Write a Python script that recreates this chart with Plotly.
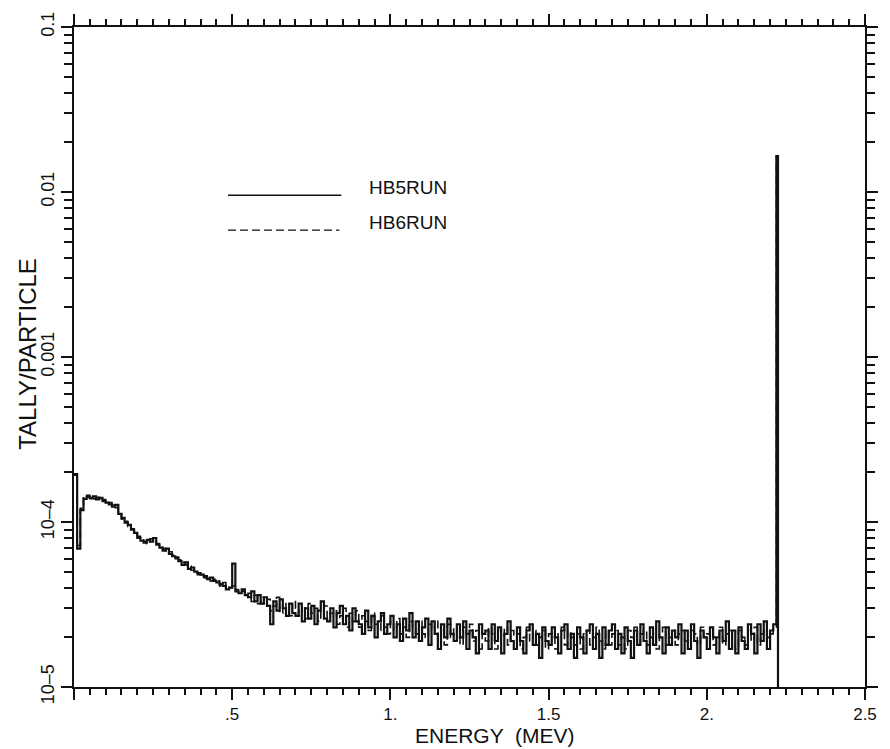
import plotly.graph_objects as go

# Tally spectra, 0.01 MeV bins starting at 0 MeV, values in units of 1e-6 per particle
BIN_WIDTH = 0.01
hb5_tally = [
    195, 69, 118, 138, 142, 139, 143, 137, 140, 134,
    131, 128, 124, 127, 112, 106, 99, 96, 90, 86,
    80, 77, 75, 78, 76, 80, 73, 70, 67, 69,
    64, 62, 61, 58, 55, 57, 52, 53, 50, 49,
    48, 47, 45, 46, 44, 43, 42, 41, 39, 40,
    56, 38, 37, 39, 36, 35, 38, 33, 36, 32,
    35, 31, 24, 33, 29, 34, 30, 27, 32, 28,
    27, 32, 25, 30, 26, 31, 24, 29, 33, 26,
    25, 30, 23, 28, 31, 24, 27, 22, 30, 25,
    24, 21, 29, 23, 27, 20, 25, 28, 21, 24,
    27, 20, 24, 19, 26, 22, 28, 20, 25, 19,
    23, 26, 18, 25, 21, 17, 24, 20, 26, 21,
    19, 24, 20, 25, 17, 22, 20, 16, 24, 21,
    22, 17, 24, 19, 23, 16, 21, 25, 19, 17,
    23, 19, 16, 22, 24, 18, 21, 15, 23, 19,
    18, 23, 20, 16, 22, 24, 17, 21, 15, 23,
    20, 16, 22, 24, 17, 21, 15, 23, 18, 22,
    24, 17, 21, 16, 23, 19, 15, 22, 18, 24,
    19, 16, 23, 18, 25, 20, 16, 23, 18, 22,
    20, 24, 16, 22, 17, 24, 19, 15, 22, 20,
    17, 23, 20, 16, 22, 19, 25, 17, 22, 16,
    23, 19, 17, 24, 21, 16, 24, 19, 25, 17,
    22, 24,
]
hb6_tally = [
    192, 72, 121, 140, 145, 141, 138, 141, 136, 137,
    129, 131, 127, 122, 115, 104, 101, 94, 91, 84,
    82, 79, 76, 74, 79, 77, 74, 71, 69, 66,
    66, 63, 60, 59, 57, 55, 54, 51, 51, 48,
    49, 46, 46, 44, 45, 44, 41, 43, 41, 40,
    41, 39, 37, 38, 35, 37, 33, 36, 32, 35,
    32, 34, 29, 31, 35, 28, 32, 29, 27, 33,
    30, 27, 31, 26, 32, 28, 30, 25, 29, 31,
    26, 28, 29, 24, 27, 30, 23, 28, 25, 29,
    23, 27, 25, 22, 28, 24, 22, 27, 23, 21,
    25, 22, 26, 21, 23, 20, 25, 23, 21, 25,
    21, 20, 24, 22, 25, 19, 22, 18, 24, 20,
    23, 20, 18, 23, 21, 24, 19, 22, 17, 21,
    19, 23, 21, 17, 22, 20, 23, 18, 22, 20,
    21, 17, 20, 23, 19, 22, 18, 20, 22, 17,
    21, 20, 17, 21, 23, 18, 22, 20, 18, 21,
    17, 21, 22, 18, 20, 23, 19, 17, 22, 18,
    21, 22, 18, 20, 17, 22, 20, 23, 18, 21,
    22, 18, 20, 21, 17, 21, 23, 18, 20, 22,
    18, 21, 22, 19, 17, 22, 21, 18, 23, 20,
    21, 22, 18, 20, 23, 18, 21, 22, 19, 17,
    22, 20, 18, 22, 19, 23, 18, 21, 22, 20,
    21, 23,
]
# 2.223 MeV capture line (narrow bin)
LINE_E = 2.22
LINE_BIN = 0.005
hb5_line = 0.0165
hb6_line = 0.0164
FLOOR = 1e-7  # below the axis range, closes the histogram

x_tickvals = [0, 0.5, 1.0, 1.5, 2.0, 2.5]
x_ticktext = ["", ".5", "1.", "1.5", "2.", "2.5"]
y_tickvals = [1e-5, 1e-4, 1e-3, 1e-2, 1e-1]
y_ticktext = ["10\u20135", "10\u20134", "0.001", "0.01", "0.1"]
y_minor = [k * 10.0 ** p for p in range(-5, -1) for k in range(2, 10)]


def histogram(values, line_val):
    xs = [i * BIN_WIDTH for i in range(len(values))] + [LINE_E, LINE_E + LINE_BIN]
    ys = [v * 1e-6 for v in values] + [line_val, FLOOR]
    return xs, ys


FONT = "Liberation Sans"
INK = "#111111"

fig = go.Figure()
x5, y5 = histogram(hb5_tally, hb5_line)
x6, y6 = histogram(hb6_tally, hb6_line)
fig.add_trace(go.Scatter(x=x6, y=y6, mode="lines", line_shape="hv",
                         line=dict(color=INK, width=1.6, dash="8px,4px"),
                         name="HB6RUN", showlegend=False))
fig.add_trace(go.Scatter(x=x5, y=y5, mode="lines", line_shape="hv",
                         line=dict(color=INK, width=2.2),
                         name="HB5RUN", showlegend=False))

L, R, T, B = 74, 20, 24, 62
W, H = 890, 749
pw, ph = W - L - R, H - T - B


def px(xp):
    return (xp - L) / pw


def py(yp):
    return (H - B - yp) / ph


axis_common = dict(showline=True, linecolor=INK, linewidth=2, mirror="allticks",
                   ticks="outside", tickcolor=INK, tickwidth=2, ticklen=11,
                   showgrid=False, zeroline=False)

fig.update_xaxes(range=[0, 2.5], tickvals=x_tickvals, ticktext=x_ticktext,
                 tickfont=dict(family=FONT, size=17, color=INK),
                 minor=dict(dtick=0.05, ticks="outside", ticklen=6, tickwidth=1.6,
                            tickcolor=INK, showgrid=False),
                 **axis_common)
fig.update_yaxes(type="log", range=[-5, -1], tickvals=y_tickvals, ticktext=y_ticktext,
                 tickangle=-90, tickfont=dict(family=FONT, size=18, color=INK),
                 minor=dict(tickvals=y_minor, ticks="outside", ticklen=8, tickwidth=1.6,
                            tickcolor=INK, showgrid=False),
                 **axis_common)

# legend drawn inside the frame
fig.add_shape(type="line", xref="paper", yref="paper",
              x0=px(229), x1=px(343), y0=py(193), y1=py(193),
              line=dict(color=INK, width=1.6))
fig.add_shape(type="line", xref="paper", yref="paper",
              x0=px(229), x1=px(341), y0=py(228), y1=py(228),
              line=dict(color=INK, width=1.4, dash="8px,4px"))
fig.add_annotation(xref="paper", yref="paper", x=px(369), y=py(185),
                   text="HB5RUN", showarrow=False, xanchor="left", yanchor="middle",
                   font=dict(family=FONT, size=19, color=INK))
fig.add_annotation(xref="paper", yref="paper", x=px(369), y=py(220),
                   text="HB6RUN", showarrow=False, xanchor="left", yanchor="middle",
                   font=dict(family=FONT, size=19, color=INK))

# axis titles
fig.add_annotation(xref="paper", yref="paper", x=px(497), y=py(736),
                   text="ENERGY  (MEV)", showarrow=False, xanchor="center", yanchor="middle",
                   font=dict(family=FONT, size=21, color=INK))
fig.add_annotation(xref="paper", yref="paper", x=px(27), y=py(352),
                   text="TALLY/PARTICLE", showarrow=False, textangle=-90,
                   xanchor="center", yanchor="middle",
                   font=dict(family=FONT, size=24, color=INK))

fig.update_layout(width=W, height=H, margin=dict(l=L, r=R, t=T, b=B),
                  paper_bgcolor="white", plot_bgcolor="white", showlegend=False)

fig.write_html("out.html")
